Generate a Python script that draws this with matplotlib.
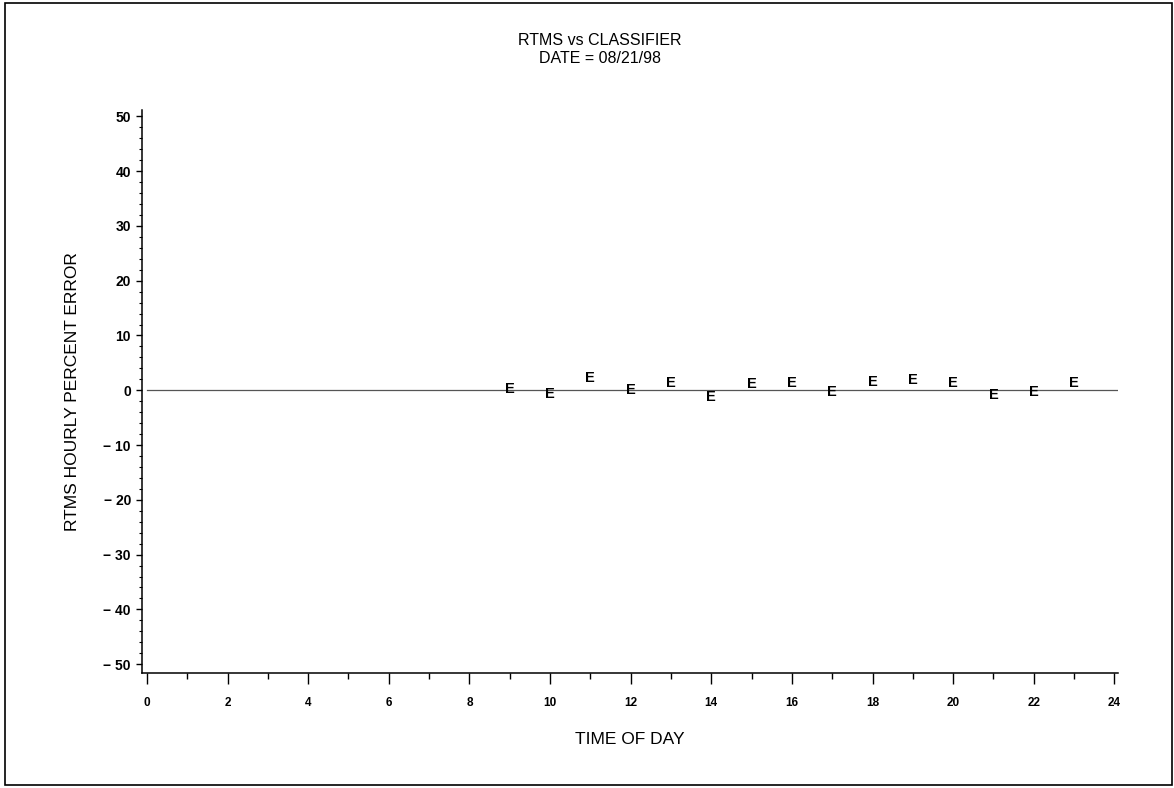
import numpy as np
import matplotlib
matplotlib.use("Agg")
import matplotlib.pyplot as plt
from matplotlib.patches import Rectangle
from matplotlib.ticker import MultipleLocator

plt.rcParams['font.family'] = ['Liberation Sans', 'DejaVu Sans']

# hourly percent error, RTMS vs classifier, 08/21/98
hours = [9, 10, 11, 12, 13, 14, 15, 16, 17, 18, 19, 20, 21, 22, 23]
pct_error = [0.2, -0.7, 2.2, 0.0, 1.3, -1.3, 1.1, 1.3, -0.4, 1.5, 1.8, 1.3, -0.9, -0.4, 1.3]

x_ticks = np.arange(0, 25, 2)
y_ticks = np.arange(-50, 51, 10)

fig = plt.figure(figsize=(11.74, 7.88), dpi=100)
ax = fig.add_axes([0.121, 0.146, 0.831, 0.714])

# reference line at zero
ax.axhline(0, xmin=0.005, color='#555555', lw=0.9)

for h, e in zip(hours, pct_error):
    ax.text(h, e, 'E', ha='center', va='center', fontsize=10.5, fontweight='bold')

ax.set_xlim(-0.12, 24.08)
ax.set_ylim(-51.6, 51.1)
ax.set_xticks(x_ticks)
ax.set_yticks(y_ticks)
ax.set_yticklabels([str(v).replace('-', '\u2212 ') for v in y_ticks])
ax.xaxis.set_minor_locator(MultipleLocator(1))
ax.yaxis.set_minor_locator(MultipleLocator(2))
ax.tick_params(axis='x', which='major', length=8, width=1, labelsize=8.5, pad=9)
ax.tick_params(axis='x', which='minor', length=4, width=1)
ax.tick_params(axis='y', which='major', length=4, width=1, labelsize=10, pad=4)
ax.tick_params(axis='y', which='minor', length=2.5, width=0.8)
for lab in ax.get_xticklabels() + ax.get_yticklabels():
    lab.set_fontweight('bold')

for s in ['top', 'right']:
    ax.spines[s].set_visible(False)
for s in ['left', 'bottom']:
    ax.spines[s].set_linewidth(1.1)

ax.set_xlabel('TIME OF DAY', fontsize=12.5, labelpad=17)
ax.set_ylabel('RTMS HOURLY PERCENT ERROR', fontsize=12.5, labelpad=17)

fig.text(0.511, 0.949, 'RTMS vs CLASSIFIER', ha='center', va='center', fontsize=11.5)
fig.text(0.511, 0.926, 'DATE = 08/21/98', ha='center', va='center', fontsize=11.5)

# frame around the page
fig.patches.append(Rectangle((0.004, 0.004), 0.994, 0.992, transform=fig.transFigure,
                             fill=False, edgecolor='black', lw=1.2))

fig.savefig('out.png', dpi=100)
